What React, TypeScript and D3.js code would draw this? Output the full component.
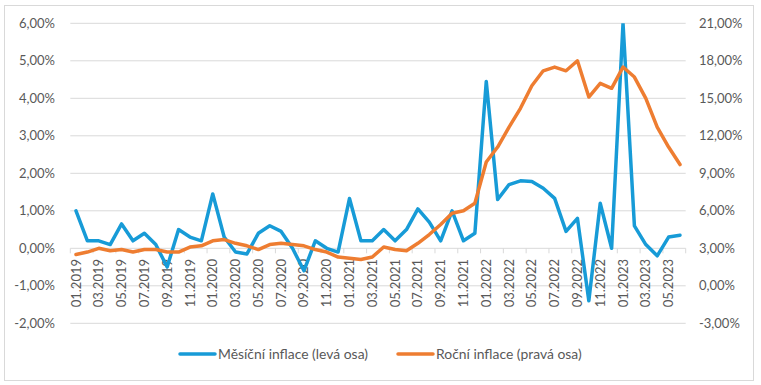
import React from "react";
import * as d3 from "d3";

const months: string[] = [
  "01.2019","02.2019","03.2019","04.2019","05.2019","06.2019","07.2019","08.2019","09.2019","10.2019","11.2019","12.2019",
  "01.2020","02.2020","03.2020","04.2020","05.2020","06.2020","07.2020","08.2020","09.2020","10.2020","11.2020","12.2020",
  "01.2021","02.2021","03.2021","04.2021","05.2021","06.2021","07.2021","08.2021","09.2021","10.2021","11.2021","12.2021",
  "01.2022","02.2022","03.2022","04.2022","05.2022","06.2022","07.2022","08.2022","09.2022","10.2022","11.2022","12.2022",
  "01.2023","02.2023","03.2023","04.2023","05.2023","06.2023",
];

const monthly: number[] = [
  1.0, 0.2, 0.2, 0.1, 0.65, 0.2, 0.4, 0.1, -0.5, 0.5, 0.3, 0.2,
  1.45, 0.3, -0.1, -0.15, 0.4, 0.6, 0.45, 0.0, -0.6, 0.2, 0.0, -0.1,
  1.33, 0.2, 0.2, 0.5, 0.2, 0.5, 1.05, 0.7, 0.2, 1.0, 0.2, 0.4,
  4.45, 1.3, 1.7, 1.8, 1.78, 1.6, 1.33, 0.45, 0.8, -1.4, 1.2, 0.0,
  6.0, 0.6, 0.1, -0.2, 0.3, 0.35,
];

const annual: number[] = [
  2.5, 2.7, 3.0, 2.8, 2.9, 2.7, 2.9, 2.9, 2.7, 2.7, 3.1, 3.2,
  3.6, 3.7, 3.4, 3.2, 2.9, 3.3, 3.4, 3.3, 3.2, 2.9, 2.7, 2.3,
  2.2, 2.1, 2.3, 3.1, 2.9, 2.8, 3.4, 4.1, 4.9, 5.8, 6.0, 6.6,
  9.9, 11.1, 12.7, 14.2, 16.0, 17.2, 17.5, 17.2, 18.0, 15.1, 16.2, 15.8,
  17.5, 16.7, 15.0, 12.7, 11.1, 9.7,
];

const leftTicks: number[] = [-2, -1, 0, 1, 2, 3, 4, 5, 6];
const rightTicks: number[] = [-3, 0, 3, 6, 9, 12, 15, 18, 21];
const seriesNames: string[] = ["Měsíční inflace (levá osa)", "Roční inflace (pravá osa)"];

const W = 761;
const H = 385;
const FONT = "Lato, 'Open Sans', sans-serif";
const TEXT = "#595959";
const GRID = "#D9D9D9";
const BLUE = "#179BD7";
const ORANGE = "#EE7D31";

export default function App() {
  const plotL = 70.3, plotR = 685.7, plotT = 23.3, plotB = 323.3;
  const x = d3.scaleBand<string>().domain(months).range([plotL, plotR]).paddingInner(0).paddingOuter(0);
  const cx = (m: string) => (x(m) as number) + x.bandwidth() / 2;
  const yL = d3.scaleLinear().domain([-2, 6]).range([plotB, plotT]);
  const yR = d3.scaleLinear().domain([-3, 21]).range([plotB, plotT]);

  const lineL = d3.line<number>().x((_, i) => cx(months[i])).y((d) => yL(d));
  const lineR = d3.line<number>().x((_, i) => cx(months[i])).y((d) => yR(d));

  const fmt = (v: number) => v.toFixed(2).replace(".", ",") + "%";
  const tickIdx = d3.range(0, months.length + 1, 2);
  const axisY = yL(0);

  return (
    <svg width={W} height={H} style={{ position: "absolute", left: 0, top: 0 }} fontFamily={FONT}>
      <defs>
        <clipPath id="plotclip">
          <rect x={plotL - 2} y={plotT} width={plotR - plotL + 4} height={plotB - plotT} />
        </clipPath>
      </defs>
      <rect x={4.5} y={5.5} width={749} height={375} fill="#fff" stroke={GRID} strokeWidth={1} />
      {leftTicks.map((t) => (
        <line key={"g" + t} x1={plotL} x2={plotR} y1={yL(t)} y2={yL(t)} stroke={GRID} strokeWidth={1} />
      ))}
      {tickIdx.map((i) => {
        const xx = plotL + i * x.bandwidth();
        return <line key={"t" + i} x1={xx} x2={xx} y1={axisY} y2={axisY + 5} stroke={GRID} strokeWidth={1} />;
      })}
      {leftTicks.map((t) => (
        <text key={"l" + t} x={55} y={yL(t)} dy="0.35em" textAnchor="end" fontSize={13} fill={TEXT}>
          {fmt(t)}
        </text>
      ))}
      {rightTicks.map((t) => (
        <text key={"r" + t} x={699} y={yR(t)} dy="0.35em" textAnchor="start" fontSize={13} fill={TEXT}>
          {fmt(t)}
        </text>
      ))}
      {months.map((m, i) =>
        i % 2 === 0 ? (
          <text
            key={"x" + m}
            transform={`translate(${cx(m)},${259}) rotate(-90)`}
            dy="0.35em"
            textAnchor="end"
            fontSize={13}
            fill={TEXT}
          >
            {m}
          </text>
        ) : null
      )}
      <g clipPath="url(#plotclip)">
        <path d={lineL(monthly) || ""} fill="none" stroke={BLUE} strokeWidth={3.5} strokeLinejoin="round" strokeLinecap="round" />
        <path d={lineR(annual) || ""} fill="none" stroke={ORANGE} strokeWidth={3.5} strokeLinejoin="round" strokeLinecap="round" />
      </g>
      <line x1={180} x2={215} y1={354} y2={354} stroke={BLUE} strokeWidth={3.5} strokeLinecap="round" />
      <text x={218} y={354} dy="0.35em" fontSize={13.9} fill={TEXT}>{seriesNames[0]}</text>
      <line x1={398} x2={433} y1={354} y2={354} stroke={ORANGE} strokeWidth={3.5} strokeLinecap="round" />
      <text x={436} y={354} dy="0.35em" fontSize={13.9} fill={TEXT}>{seriesNames[1]}</text>
    </svg>
  );
}
